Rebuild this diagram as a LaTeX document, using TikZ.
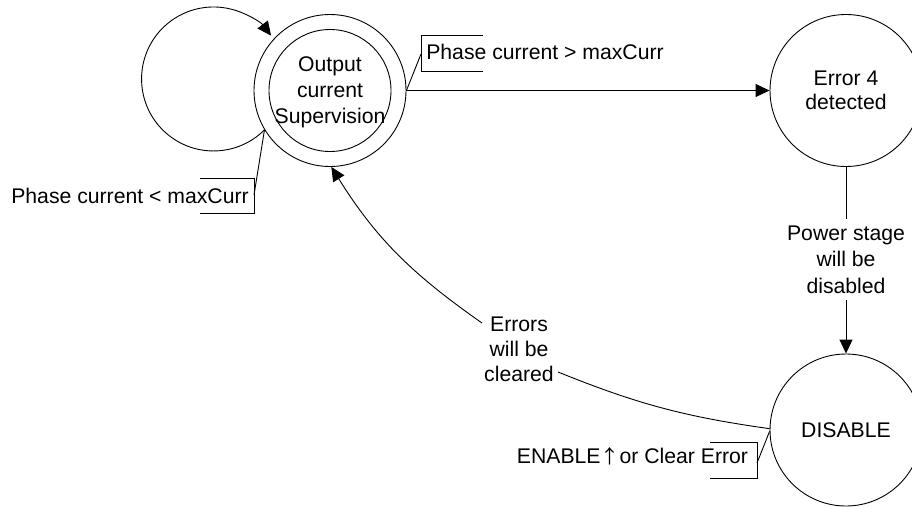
\documentclass[tikz,border=0pt]{standalone}
\usepackage{fontspec}
\setmainfont{Liberation Sans}
\newfontfamily\arrowfont{Noto Sans CJK SC}
\usetikzlibrary{arrows.meta}
\begin{document}
\begin{tikzpicture}[x=1pt,y=1pt,
  every node/.style={font=\fontsize{21.2}{25.5}\selectfont, inner sep=0pt},
  statecirc/.style={circle, draw, line width=0.9pt, minimum size=152pt, align=center},
  conn/.style={line width=0.9pt},
  arr/.style={conn, -{Triangle[length=14pt,width=13pt]}},
  lbl/.style={align=center}]
\useasboundingbox (0,-506) rectangle (912,0);
% states
\node[statecirc] (main) at (330,-90.5) {};
\node[circle, draw, line width=0.9pt, minimum size=122pt] (mainin) at (main) {};
\node[lbl, font=\fontsize{21.2}{26}\selectfont] (maintxt) at (330,-92) {Output\\current\\Supervision};
\node[statecirc, font=\fontsize{21.2}{24}\selectfont] (err) at (846,-90.5) {Error 4\\detected};
\node[statecirc] (dis) at (846,-430) {DISABLE};
% labels
\node[anchor=base] (lblless) at (130,-203) {Phase current < maxCurr};
\node[anchor=base] (lblgreater) at (545,-59) {Phase current > maxCurr};
\node[anchor=base] (lblenable) at (632.5,-463) {ENABLE{\arrowfont\fontsize{19}{24}\selectfont ↑}or Clear Error};
\node[lbl, inner ysep=6.5pt, font=\fontsize{21.2}{26.5}\selectfont] (pw) at (846,-259.5) {Power stage\\will be\\disabled};
\node[lbl, font=\fontsize{21.2}{25}\selectfont] (clr) at (519,-349) {Errors\\will be\\cleared};
% annotation brackets
\draw[conn] (200,-178) -- (254,-178) -- (254,-213) -- (200,-213);
\draw[conn] (483,-35) -- (421,-35) -- (421,-71) -- (483,-71);
\draw[conn] (710,-442) -- (757,-442) -- (757,-478) -- (710,-478);
\coordinate (bless) at (254,-195);
\coordinate (bgreater) at (421,-54);
\coordinate (benable) at (757,-463);
\draw[conn] (bless) -- (main.211);
\draw[conn] (bgreater) -- (main.0);
\draw[conn] (benable) -- (dis.181);
% transitions
\draw[arr] (main.211) arc[start angle=-45, end angle=-323, radius=72];
\draw[arr] (main.east) -- (err.west);
\draw[conn] (err.south) -- (pw.north);
\draw[arr] (pw.south) -- (dis.north);
\coordinate (c1) at (558,-372);
\coordinate (c2) at (482,-323);
\draw[conn] (dis.179) to[out=172,in=-22] (c1);
\draw[arr] (c2) to[out=145,in=-58] (main.271);
\end{tikzpicture}
\end{document}
